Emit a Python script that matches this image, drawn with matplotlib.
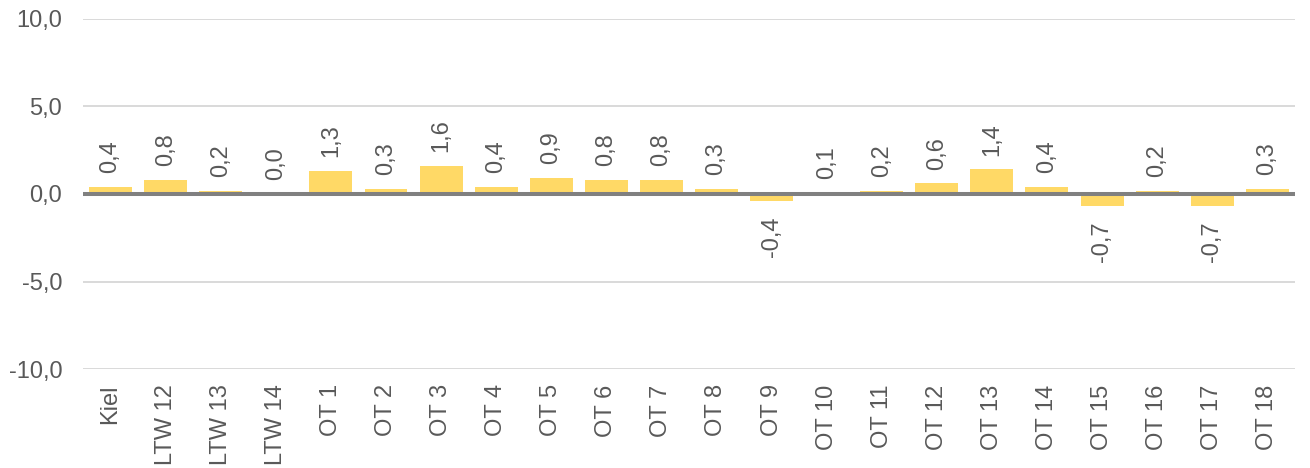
import matplotlib

matplotlib.use("Agg")
import matplotlib.pyplot as plt

plt.rcParams["font.family"] = ["Liberation Sans", "DejaVu Sans"]

categories = ["Kiel", "LTW 12", "LTW 13", "LTW 14"] + [f"OT {i}" for i in range(1, 19)]
values = [0.4, 0.8, 0.2, 0.0, 1.3, 0.3, 1.6, 0.4, 0.9, 0.8, 0.8, 0.3,
          -0.4, 0.1, 0.2, 0.6, 1.4, 0.4, -0.7, 0.2, -0.7, 0.3]
# drawn heights (labels are rounded)
heights = [0.4, 0.8, 0.15, 0.0, 1.3, 0.3, 1.6, 0.4, 0.9, 0.8, 0.8, 0.3,
           -0.4, 0.05, 0.15, 0.6, 1.4, 0.4, -0.7, 0.15, -0.7, 0.3]
yticks = [-10, -5, 0, 5, 10]

TEXT = "#595959"
BAR = "#FFD966"
FS = 17

fig = plt.figure(figsize=(13.1, 4.68), dpi=100)
ax = fig.add_axes([0.0634, 0.2115, 0.925, 0.748])

x = range(len(categories))
ax.bar(x, heights, width=0.78, color=BAR, zorder=2)
ax.axhline(0, color="#808080", lw=2.9, zorder=3)

for xi, v, h in zip(x, values, heights):
    label = f"{v:.1f}".replace(".", ",")
    if v < 0:
        ax.annotate(label, (xi, h), xytext=(0, -11), textcoords="offset points",
                    rotation=90, ha="center", va="top", fontsize=FS, color=TEXT)
    else:
        ax.annotate(label, (xi, max(h, 0)), xytext=(0, 10), textcoords="offset points",
                    rotation=90, ha="center", va="bottom", fontsize=FS, color=TEXT)

ax.set_xlim(-0.5, len(categories) - 0.5)
ax.set_ylim(-10, 10)
ax.set_yticks(yticks)
ax.set_yticklabels([f"{t:.1f}".replace(".", ",") for t in yticks])
ax.set_xticks(list(x))
ax.set_xticklabels(categories, rotation=90)
ax.tick_params(axis="both", length=0, labelsize=FS, labelcolor=TEXT)
ax.tick_params(axis="y", pad=15)
ax.tick_params(axis="x", pad=11)
ax.grid(axis="y", color="#D9D9D9", lw=1.4, zorder=0)
ax.set_axisbelow(True)
for s in ax.spines.values():
    s.set_visible(False)

fig.savefig("out.png", dpi=100)
